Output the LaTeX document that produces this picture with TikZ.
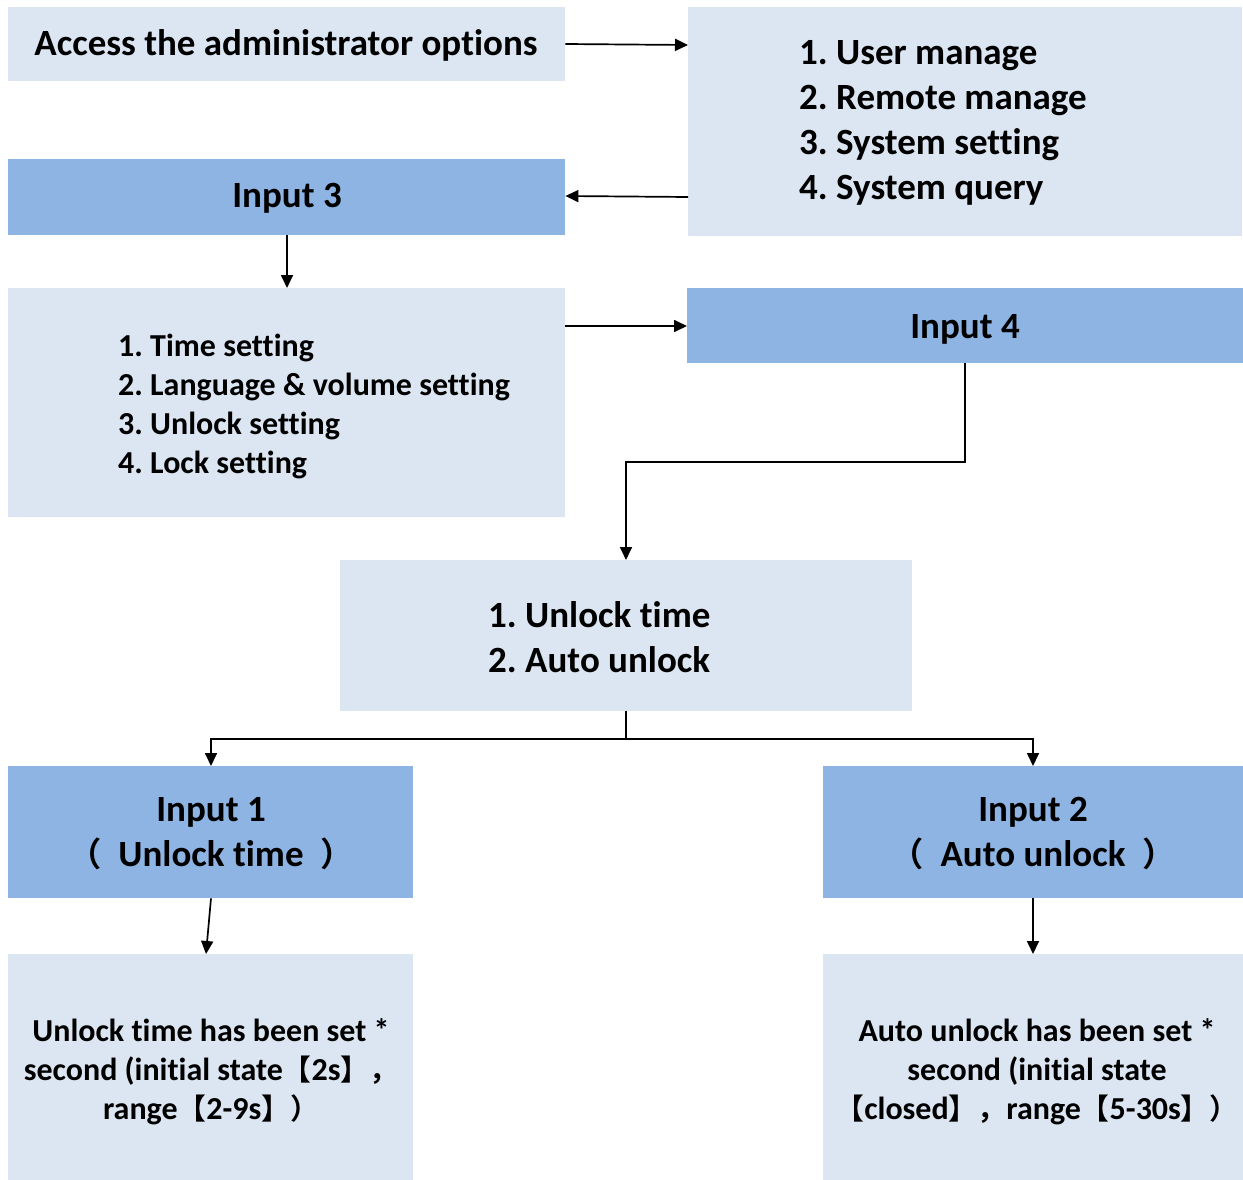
\documentclass[tikz,border=0pt]{standalone}
\usepackage{fontspec}
\setmainfont{Carlito}[BoldFont={Carlito Bold}, Ligatures={NoCommon}]
\newfontfamily\cjk{Noto Sans CJK SC}[BoldFont={Noto Sans CJK SC Bold}, Scale=0.9]
\usetikzlibrary{arrows.meta}
\definecolor{light}{RGB}{220,230,242}
\definecolor{dark}{RGB}{142,180,227}
\frenchspacing
\begin{document}
\begin{tikzpicture}[x=1pt,y=-1pt,
  box/.style={rectangle, fill=light, inner sep=0pt, anchor=north west},
  inbox/.style={rectangle, fill=dark, inner sep=0pt, anchor=north west},
  big/.style={font=\fontsize{37}{45}\selectfont\bfseries, inner sep=0pt},
  mid/.style={font=\fontsize{32}{39}\selectfont\bfseries, inner sep=0pt},
  conn/.style={line width=1.7pt, -{Triangle[length=13pt,width=12pt]}}]
\useasboundingbox (0,0) rectangle (1243,1180);
% boxes
\node[box, minimum width=557pt, minimum height=74pt] (access) at (8,7) {};
\node[box, minimum width=554pt, minimum height=229pt] (menu) at (688,7) {};
\node[inbox, minimum width=557pt, minimum height=76pt] (in3) at (8,159) {};
\node[box, minimum width=557pt, minimum height=229pt] (sett) at (8,288) {};
\node[inbox, minimum width=556pt, minimum height=75pt] (in4) at (687,288) {};
\node[box, minimum width=572pt, minimum height=151pt] (unl) at (340,560) {};
\node[inbox, minimum width=405pt, minimum height=132pt] (in1) at (8,766) {};
\node[inbox, minimum width=420pt, minimum height=132pt] (in2) at (823,766) {};
\node[box, minimum width=405pt, minimum height=226pt] (res1) at (8,954) {};
\node[box, minimum width=420pt, minimum height=226pt] (res2) at (823,954) {};
% texts
\node[big] (taccess) at (286,45) {Access the administrator options};
\node[big, anchor=west, align=left] (tmenu) at (799,123) {1. User manage\\2. Remote manage\\3. System setting\\4. System query};
\node[big] (tin3) at (287,198) {Input 3};
\node[mid, anchor=west, align=left] (tsett) at (118,406.5) {1. Time setting\\2. Language \& volume setting\\3. Unlock setting\\4. Lock setting};
\node[big] (tin4) at (965,329) {Input 4};
\node[big, anchor=west, align=left] (tunl) at (488,637) {1. Unlock time\\2. Auto unlock};
\node[big, align=center] (tin1) at (211,834) {Input 1\\{\cjk （}\ \ Unlock time\ \ {\cjk ）}};
\node[big, align=center] (tin2) at (1033,834) {Input 2\\{\cjk （}\ \ Auto unlock\ \ {\cjk ）}};
\node[mid, align=center] (tres1) at (211,1072) {Unlock time has been set *\\second (initial state{\cjk 【}2s{\cjk 】，}\\range{\cjk 【}2-9s{\cjk 】）}};
\node[mid, align=center] (tres2) at (1037,1072) {Auto unlock has been set *\\second (initial state\\{\cjk 【}closed{\cjk 】，}range{\cjk 【}5-30s{\cjk 】）}};
% connectors
\draw[conn] (access.east |- 0,44) -- (menu.west |- 0,45);
\draw[conn] (menu.west |- 0,197) -- (in3.east |- 0,196);
\draw[conn] (in3.south -| 287,0) -- (sett.north -| 287,0);
\draw[conn] (sett.east |- 0,326) -- (in4.west |- 0,326);
\draw[conn] (in4.south -| 965,0) -- (965,462) -- (626,462) -- (unl.north -| 626,0);
\coordinate (split) at (626,739);
\draw[line width=1.7pt] (unl.south -| 626,0) -- (split);
\draw[conn] (split) -- (211,739) -- (in1.north -| 211,0);
\draw[conn] (split) -- (1033,739) -- (in2.north -| 1033,0);
\draw[conn] (in1.south -| 211,0) -- (res1.north -| 206,0);
\draw[conn] (in2.south -| 1033,0) -- (res2.north -| 1033,0);
\end{tikzpicture}
\end{document}
